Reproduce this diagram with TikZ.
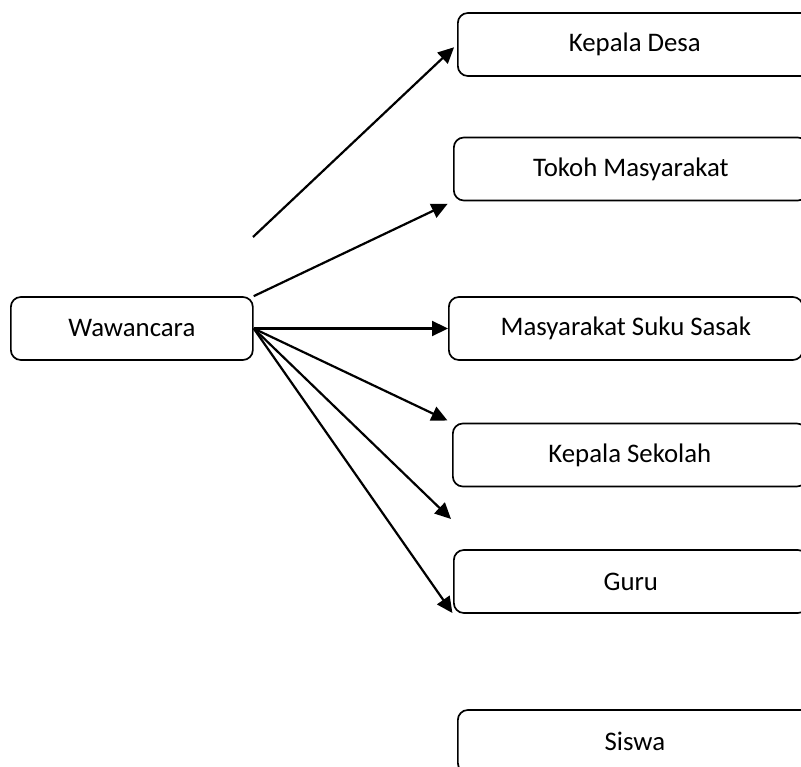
\documentclass[tikz,border=0pt]{standalone}
\usepackage{fontspec}
\setmainfont{Carlito}
\usetikzlibrary{arrows.meta}
\tikzset{
  box/.style={draw, line width=1.7pt, rounded corners=10pt, minimum height=63pt, inner sep=0pt, anchor=west, font=\fontsize{26.8}{31}\selectfont},
  target/.style={box, minimum width=354pt},
  link/.style={-{Triangle[length=16pt,width=15pt]}, line width=2.2pt}
}
\begin{document}
\begin{tikzpicture}[x=1pt,y=-1pt]
\useasboundingbox (0,0) rectangle (801,767);
\clip (0,0) rectangle (801,767);
\node [box, minimum width=242pt] (wc) at (10,328.5) {Wawancara};
\node [target] (kd) at (457,44.5) {Kepala Desa};
\node [target] (tm) at (453,169) {Tokoh Masyarakat};
\node [target] (mss) at (448,328.5) {Masyarakat Suku Sasak};
\node [target] (ks) at (452,455) {Kepala Sekolah};
\node [target] (gr) at (453,581.5) {Guru};
\node [target] (sw) at (457,741.5) {Siswa};
\coordinate (free1) at (253,237);
\coordinate (free2) at (451,519);
\draw [link, shorten >=4pt] (free1) -- (kd.west);
\draw [link, shorten >=6pt] (wc.north east) -- (tm.south west);
\draw [link, shorten >=0pt] (wc.east) -- (mss.west);
\draw [link, shorten >=5pt] (wc.east) -- (ks.north west);
\draw [link] (wc.east) -- (free2);
\draw [link, shorten >=1pt] (wc.east) -- (gr.south west);
\end{tikzpicture}
\end{document}
